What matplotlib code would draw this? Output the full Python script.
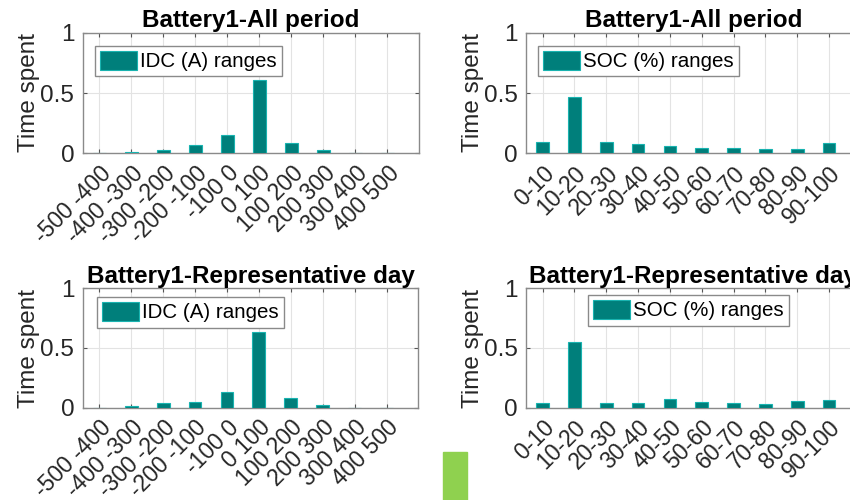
import matplotlib
matplotlib.use("Agg")
import matplotlib.pyplot as plt
from matplotlib.patches import Rectangle
from matplotlib.transforms import ScaledTranslation

plt.rcParams["font.family"] = ["Liberation Sans", "DejaVu Sans"]

idc_labels = ["-500 -400", "-400 -300", "-300 -200", "-200 -100", "-100 0",
              "0 100", "100 200", "200 300", "300 400", "400 500"]
soc_labels = ["0-10", "10-20", "20-30", "30-40", "40-50",
              "50-60", "60-70", "70-80", "80-90", "90-100"]

idc_all = [0.0, 0.008, 0.027, 0.069, 0.155, 0.61, 0.085, 0.027, 0.0, 0.0]
soc_all = [0.094, 0.463, 0.094, 0.08, 0.058, 0.047, 0.041, 0.033, 0.036, 0.083]
idc_day = [0.0, 0.012, 0.037, 0.05, 0.134, 0.636, 0.081, 0.023, 0.0, 0.0]
soc_day = [0.037, 0.55, 0.037, 0.04, 0.077, 0.048, 0.037, 0.035, 0.059, 0.067]

bar_face = "#007f7b"
bar_edge = "#19b3b0"
edge_grey = "#8a8a8a"

fig = plt.figure(figsize=(8.5, 5), dpi=100)

panels = [
    # axes position, values, labels, title, legend text, legend anchor
    ([0.0973, 0.6934, 0.396, 0.2412], idc_all, idc_labels,
     "Battery1-All period", "IDC (A) ranges", (0.036, 0.89)),
    ([0.6188, 0.6934, 0.394, 0.2412], soc_all, soc_labels,
     "Battery1-All period", "SOC (%) ranges", (0.036, 0.89)),
    ([0.0973, 0.1846, 0.395, 0.2388], idc_day, idc_labels,
     "Battery1-Representative day", "IDC (A) ranges", (0.043, 0.927)),
    ([0.6188, 0.1846, 0.394, 0.2388], soc_day, soc_labels,
     "Battery1-Representative day", "SOC (%) ranges", (0.185, 0.944)),
]

# nudge the rotated tick labels right/down like the MATLAB layout
shift = ScaledTranslation(0.09, -0.09, fig.dpi_scale_trans)

for pos, vals, labels, title, leg, anchor in panels:
    ax = fig.add_axes(pos)
    x = range(1, len(vals) + 1)
    ax.bar(x, vals, width=0.4, color=bar_face, edgecolor=bar_edge,
           linewidth=0.8, label=leg, zorder=3)
    ax.set_xlim(0.48, 11)
    ax.set_ylim(0, 1)
    ax.set_xticks(list(x))
    ax.set_xticklabels(labels, rotation=45, ha="right", va="top",
                       rotation_mode="anchor", fontsize=16.5)
    for lab in ax.get_xticklabels():
        lab.set_transform(lab.get_transform() + shift)
    ax.set_yticks([0, 0.5, 1])
    ax.set_yticklabels(["0", "0.5", "1"], fontsize=17.5)
    ax.tick_params(direction="in", length=3, top=True, right=True,
                   color="#555555", labelcolor="#262626", pad=6)
    ax.grid(True, color="#e3e3e3", linewidth=0.8, zorder=0)
    for s in ax.spines.values():
        s.set_color(edge_grey)
        s.set_linewidth(1.0)
    ax.set_title(title, fontsize=17.5, fontweight="bold", pad=4)
    ax.set_ylabel("Time spent", fontsize=17.5, color="#262626", labelpad=0)
    ax.legend(loc="upper left", bbox_to_anchor=anchor, fontsize=14.8,
              fancybox=False, edgecolor=edge_grey, framealpha=1,
              handlelength=1.8, handleheight=1.0, handletextpad=0.15,
              borderpad=0.25, borderaxespad=0)

# stray green block at the bottom of the screenshot
fig.patches.append(Rectangle((0.5209, 0.0), 0.029, 0.0966,
                             transform=fig.transFigure,
                             color="#8fd14f", zorder=10))

fig.savefig("out.png", dpi=100)
